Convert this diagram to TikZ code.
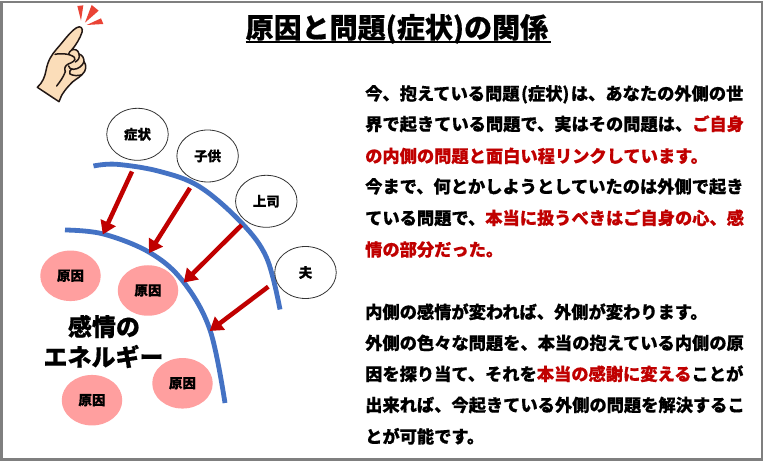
\documentclass[tikz,border=0pt]{standalone}
\usepackage{fontspec}
\setmainfont{Noto Sans CJK JP}[BoldFeatures={FakeBold=0.5}]
\usetikzlibrary{arrows.meta,shapes.geometric}
\definecolor{cRed}{HTML}{C00000}
\definecolor{cBlue}{HTML}{4472C4}
\definecolor{cPink}{HTML}{FF9F9F}
\definecolor{cSkin}{HTML}{FBDDB9}
\definecolor{cInk}{HTML}{231815}
\definecolor{cSpark}{HTML}{EA4335}
\definecolor{cFrame}{HTML}{7F7F7F}
\newcommand{\rd}[1]{\textcolor{cRed}{#1}}
\tikzset{
  outerb/.style={ellipse,draw=black!80,line width=0.8pt,fill=white,minimum width=61.5pt,minimum height=52pt,inner sep=0pt,font=\fontsize{13.5pt}{14pt}\selectfont\bfseries},
  cause/.style={ellipse,fill=cPink,minimum width=60.5pt,minimum height=50.5pt,inner sep=0pt,font=\fontsize{13.5pt}{14pt}\selectfont\bfseries},
  curve/.style={cBlue,line width=4.8pt},
  push/.style={cRed,line width=4.5pt,-{Triangle[length=13pt,width=16pt]},shorten >=-0.5pt},
  bodyline/.style={anchor=base west,inner sep=0pt,font=\fontsize{17.25pt}{18pt}\selectfont\bfseries},
  bigt/.style={inner sep=0pt,font=\fontsize{24pt}{26pt}\selectfont\bfseries},
  handline/.style={cInk,line width=1.5pt,line join=round,line cap=round}
}
\begin{document}
\begin{tikzpicture}[x=1pt,y=-1pt]
\useasboundingbox (0,0) rectangle (764,462);
\fill[white] (0,0) rectangle (764,462);
\draw[cFrame,line width=2.6pt] (1.3,2) rectangle (762,459.7);

% title
\node[anchor=base west,inner sep=0pt,font=\fontsize{28pt}{30pt}\selectfont\bfseries] (title) at (245.5,38) {原因と問題(症状)の関係};
\draw[black,line width=2.4pt] (245.5,42) -- (550.5,42);

% hand
\begin{scope}[shift={(20,0)},x=0.3333pt,y=-0.3333pt]
  \fill[cSpark] (172,18) -- (190,16) -- (183,62) -- cycle;
  \fill[cSpark] (215,15) -- (236,32) -- (195,68) -- cycle;
  \fill[cSpark] (243,55) -- (250,72) -- (200,75) -- cycle;
  \path[fill=cSkin,draw=cInk,line width=1.5pt,line join=round]
    (52,262) .. controls (68,247) and (74,232) .. (78,212)
    .. controls (84,180) and (95,165) .. (110,147)
    .. controls (130,125) and (150,95) .. (170,83)
    .. controls (182,76) and (190,85) .. (186,97)
    .. controls (180,115) and (168,135) .. (155,150)
    .. controls (165,146) and (175,150) .. (177,162)
    .. controls (188,165) and (192,175) .. (192,185)
    .. controls (200,195) and (200,212) .. (186,224)
    .. controls (175,236) and (160,240) .. (148,256)
    .. controls (138,266) and (130,278) .. (125,286)
    -- (117,305) -- cycle;
  \draw[handline] (105,163) .. controls (120,160) and (150,160) .. (163,172)
    .. controls (170,182) and (155,188) .. (145,192)
    .. controls (135,197) and (132,205) .. (136,215);
  \draw[handline] (136,215) .. controls (130,232) and (120,245) .. (110,258);
  \draw[handline] (155,150) .. controls (150,153) and (147,158) .. (146,162);
  \draw[handline] (177,162) .. controls (180,172) and (176,180) .. (166,186);
  \draw[handline] (192,185) .. controls (188,197) and (175,208) .. (160,208) .. controls (152,208) and (147,204) .. (146,198);
  \draw[handline] (186,224) .. controls (175,228) and (160,228) .. (150,222) .. controls (147,217) and (150,210) .. (154,208);
\end{scope}

% curves
\draw[curve] plot[smooth,tension=0.6] coordinates {(93.5,166) (116.7,164.3) (160,171.5) (200,187) (241.7,223) (266.7,258) (280,309.5)};
\draw[curve] plot[smooth,tension=0.6] coordinates {(65,230) (103.3,234) (150,252.7) (183.3,281.7) (210,330) (225,403)};

% outer ellipses
\node[outerb] (symptom) at (137.5,134.3) {症状};
\node[outerb] (child) at (207.6,156) {子供};
\node[outerb] (boss) at (266.3,201.3) {上司};
\node[outerb] (husband) at (305.5,272.5) {夫};

% causes
\node[cause] (c1) at (70.5,275.8) {原因};
\node[cause] (c2) at (148,290.5) {原因};
\node[cause] (c3) at (182.5,383.3) {原因};
\node[cause] (c4) at (92,400.2) {原因};

% arrows
\coordinate (a1s) at (132,171.5); \coordinate (a1e) at (103,234);
\coordinate (a2s) at (190,188);   \coordinate (a2e) at (149.3,252.7);
\coordinate (a3s) at (241.7,225); \coordinate (a3e) at (184,282.3);
\coordinate (a4s) at (268.3,286.7); \coordinate (a4e) at (210,330.7);
\draw[push] (a1s) -- (a1e);
\draw[push] (a2s) -- (a2e);
\draw[push] (a3s) -- (a3e);
\draw[push] (a4s) -- (a4e);

% big label
\node[bigt] (e1) at (104,326.5) {感情の};
\node[bigt] (e2) at (103.5,356.5) {エネルギー};

% body
\node[bodyline] (l1) at (365,100) {今、抱えている問題\hspace{1.5pt}(症状)\hspace{1.5pt}は、あなたの外側の世};
\node[bodyline] (l2) at (365,130.5) {界で起きている問題で、実はその問題は、\rd{ご自身}};
\node[bodyline] (l3) at (365,162.5) {\rd{の内側の問題と面白い程リンクしています。}};
\node[bodyline] (l4) at (365,193) {今まで、何とかしようとしていたのは外側で起き};
\node[bodyline] (l5) at (365,224.5) {ている問題で、\rd{本当に扱うべきはご自身の心、感}};
\node[bodyline] (l6) at (365,256) {\rd{情の部分だった。}};
\node[bodyline] (l7) at (365,318.5) {内側の感情が変われば、外側が変わります。};
\node[bodyline] (l8) at (365,349.5) {外側の色々な問題を、本当の抱えている内側の原};
\node[bodyline] (l9) at (365,380.5) {因を探り当て、それを\rd{本当の感謝に変える}ことが};
\node[bodyline] (l10) at (365,411.5) {出来れば、今起きている外側の問題を解決するこ};
\node[bodyline] (l11) at (365,443) {とが可能です。};
\end{tikzpicture}
\end{document}
